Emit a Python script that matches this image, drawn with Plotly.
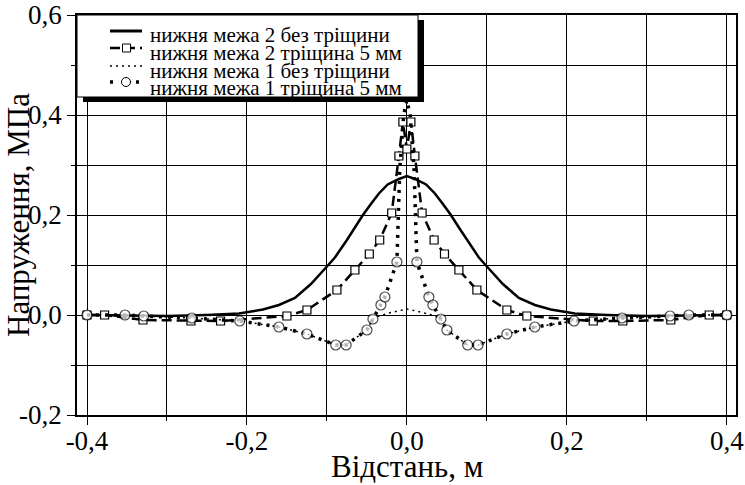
import plotly.graph_objects as go

# ---- data ----
s1_name = "нижня межа 2 без тріщини"
s1_x = [-0.4, -0.35, -0.3, -0.25, -0.21, -0.18, -0.16, -0.14, -0.12, -0.1, -0.09, -0.075, -0.065, -0.055, -0.045, -0.035, -0.024, -0.01,
        0.0, 0.01, 0.024, 0.035, 0.045, 0.055, 0.065, 0.075, 0.09, 0.1, 0.12, 0.14, 0.16, 0.18, 0.21, 0.25, 0.3, 0.35, 0.4]
s1_y = [0.0, -0.001, -0.002, 0.0, 0.003, 0.011, 0.02, 0.034, 0.062, 0.097, 0.115, 0.15, 0.175, 0.2, 0.222, 0.243, 0.261, 0.272,
        0.278, 0.272, 0.261, 0.243, 0.222, 0.2, 0.175, 0.15, 0.115, 0.097, 0.062, 0.034, 0.02, 0.011, 0.003, 0.0, -0.002, -0.001, 0.0]

s2_name = "нижня межа 2 тріщина 5 мм"
s2_x = [-0.4, -0.378, -0.33, -0.27, -0.233, -0.15, -0.125, -0.0875, -0.065, -0.047, -0.034, -0.019, -0.01, -0.005,
        0.0, 0.005, 0.01, 0.019, 0.034, 0.047, 0.065, 0.0875, 0.125, 0.15, 0.233, 0.27, 0.33, 0.378, 0.4]
s2_y = [0.0, 0.0, -0.01, -0.012, -0.012, -0.002, 0.01, 0.05, 0.09, 0.122, 0.15, 0.204, 0.318, 0.386,
        0.332, 0.386, 0.318, 0.204, 0.15, 0.122, 0.09, 0.05, 0.01, -0.002, -0.012, -0.012, -0.01, 0.0, 0.0]

s3_name = "нижня межа 1 без тріщини"
s3_x = [-0.4, -0.3525, -0.329, -0.269, -0.209, -0.16, -0.125, -0.089, -0.076, -0.05, -0.0425, -0.035, -0.02,
        0.0, 0.02, 0.035, 0.0425, 0.05, 0.076, 0.089, 0.125, 0.16, 0.209, 0.269, 0.329, 0.3525, 0.4]
s3_y = [0.0, 0.0, -0.002, -0.006, -0.012, -0.024, -0.038, -0.06, -0.06, -0.03, -0.008, -0.002, 0.005,
        0.012, 0.005, -0.002, -0.008, -0.03, -0.06, -0.06, -0.038, -0.024, -0.012, -0.006, -0.002, 0.0, 0.0]

s4_name = "нижня межа 1 тріщина 5 мм"
s4_x = [-0.4, -0.3525, -0.329, -0.269, -0.209, -0.16, -0.125, -0.089, -0.076, -0.05, -0.0425, -0.0325, -0.0275, -0.0125,
        -0.009, -0.004, 0.0, 0.004, 0.009,
        0.0125, 0.0275, 0.0325, 0.0425, 0.05, 0.076, 0.089, 0.125, 0.16, 0.209, 0.269, 0.329, 0.3525, 0.4]
s4_y = [0.0, 0.0, -0.002, -0.006, -0.012, -0.024, -0.038, -0.06, -0.06, -0.03, -0.008, 0.02, 0.036, 0.106,
        0.29, 0.4, 0.43, 0.4, 0.29,
        0.106, 0.036, 0.02, -0.008, -0.03, -0.06, -0.06, -0.038, -0.024, -0.012, -0.006, -0.002, 0.0, 0.0]
s4_marked = [True] * 14 + [False] * 5 + [True] * 14

x_tickvals = [-0.4, -0.2, 0.0, 0.2, 0.4]
x_ticktext = ["-0,4", "-0,2", "0,0", "0,2", "0,4"]
y_tickvals = [-0.2, 0.0, 0.2, 0.4, 0.6]
y_ticktext = ["-0,2", "0,0", "0,2", "0,4", "0,6"]
x_title = "Відстань, м"
y_title = "Напруження, МПа"

FONT = "Liberation Serif"
W, H = 745, 485
ML, MR, MT, MB = 77, 9, 15, 70
PW, PH = W - ML - MR, H - MT - MB


def px_x(p):
    return (p - ML) / PW


def px_y(p):
    return (H - MB - p) / PH


fig = go.Figure()
fig.add_trace(go.Scatter(x=s1_x, y=s1_y, name=s1_name, mode="lines",
                         line=dict(color="black", width=2.5), showlegend=False))
fig.add_trace(go.Scatter(x=s2_x, y=s2_y, name=s2_name, mode="lines+markers",
                         line=dict(color="black", width=2.5, dash="10px,5px"),
                         marker=dict(symbol="square", size=8, color="white",
                                     line=dict(color="black", width=1.2)), showlegend=False))
fig.add_trace(go.Scatter(x=s3_x, y=s3_y, name=s3_name, mode="lines",
                         line=dict(color="black", width=1.5, dash="2px,4px"), showlegend=False))
fig.add_trace(go.Scatter(x=s4_x, y=s4_y, name=s4_name, mode="lines+markers",
                         line=dict(color="black", width=3.5, dash="3px,6px"),
                         marker=dict(symbol="circle", size=[10 if m else 0 for m in s4_marked], color="white",
                                     line=dict(color="black", width=1.2)), showlegend=False))

# ---- custom legend (box with shadow) ----
shapes = [
    dict(type="rect", xref="paper", yref="paper", x0=px_x(83), x1=px_x(424), y0=px_y(102), y1=px_y(20),
         fillcolor="black", line=dict(width=0), layer="above"),
    dict(type="rect", xref="paper", yref="paper", x0=px_x(77), x1=px_x(418), y0=px_y(97), y1=px_y(15),
         fillcolor="white", line=dict(color="black", width=1), layer="above"),
]
sample_y = [31, 48, 66, 82]
text_y = [35, 52.5, 70.5, 88]
styles = [dict(width=3, dash="solid"), dict(width=2.5, dash="10px,5px"),
          dict(width=1.5, dash="2px,4px"), dict(width=3.5, dash="3px,10px")]
for sy, st in zip(sample_y, styles):
    shapes.append(dict(type="line", xref="paper", yref="paper", x0=px_x(110), x1=px_x(142),
                       y0=px_y(sy), y1=px_y(sy), line=dict(color="black", **st), layer="above"))
shapes.append(dict(type="rect", xref="paper", yref="paper", x0=px_x(122.5), x1=px_x(130.5),
                   y0=px_y(sample_y[1] + 4), y1=px_y(sample_y[1] - 4),
                   fillcolor="white", line=dict(color="black", width=1), layer="above"))
shapes.append(dict(type="circle", xref="paper", yref="paper", x0=px_x(121.5), x1=px_x(130.5),
                   y0=px_y(sample_y[3] + 4.5), y1=px_y(sample_y[3] - 4.5),
                   fillcolor="white", line=dict(color="black", width=1), layer="above"))

annotations = []
for ty, nm in zip(text_y, [s1_name, s2_name, s3_name, s4_name]):
    annotations.append(dict(x=px_x(148), y=px_y(ty), xref="paper", yref="paper", text=nm,
                            showarrow=False, xanchor="left", yanchor="middle",
                            font=dict(family=FONT, size=21, color="black")))
# axis titles
annotations.append(dict(x=px_x(407), y=px_y(467), xref="paper", yref="paper", text=x_title,
                        showarrow=False, xanchor="center", yanchor="middle",
                        font=dict(family=FONT, size=31, color="black")))
annotations.append(dict(x=px_x(18), y=px_y(215), xref="paper", yref="paper", text=y_title,
                        showarrow=False, xanchor="center", yanchor="middle", textangle=-90,
                        font=dict(family=FONT, size=31, color="black")))

axis_common = dict(showline=True, linecolor="black", linewidth=1.5, mirror=True, automargin=False,
                   showgrid=True, gridcolor="black", gridwidth=1, zeroline=False,
                   ticks="outside", ticklen=8, tickcolor="black", tickwidth=1,
                   tickfont=dict(family=FONT, size=27, color="black"), tickmode="array",
                   minor=dict(dtick=0.1, tick0=0, showgrid=True, gridcolor="black", gridwidth=1,
                              ticks="outside", ticklen=4, tickcolor="black"))

fig.update_layout(
    width=W, height=H,
    margin=dict(l=ML, r=MR, t=MT, b=MB, autoexpand=False),
    paper_bgcolor="white", plot_bgcolor="white",
    font=dict(family=FONT, color="black"),
    shapes=shapes, annotations=annotations,
    xaxis=dict(range=[-0.4125, 0.4115], tickvals=x_tickvals, ticktext=x_ticktext,
               ticklabelstandoff=-7, **axis_common),
    yaxis=dict(range=[-0.2, 0.6], tickvals=y_tickvals, ticktext=y_ticktext,
               **axis_common),
)

fig.write_html("out.html", config={"displayModeBar": False},
               post_script="document.body.style.margin='0px';")
